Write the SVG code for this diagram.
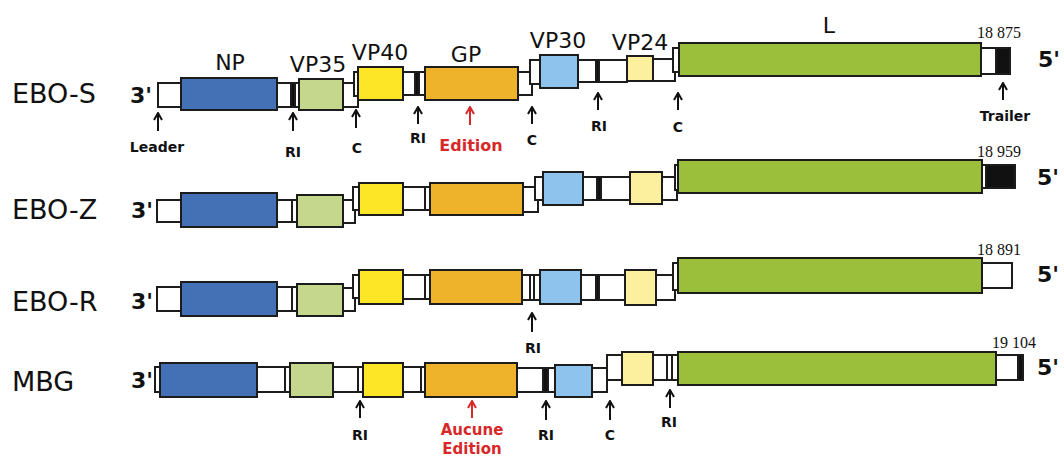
<svg xmlns="http://www.w3.org/2000/svg" width="1064" height="459" viewBox="0 0 1064 459">
<style>
rect{stroke:#1c1c1c;stroke-width:2}
.bg{fill:#fff;stroke:none}
.w{fill:#fff}
.k{fill:#111}
.np{fill:#4470b6}
.vp35{fill:#c4d78c}
.vp40{fill:#fde625}
.gp{fill:#efb32b}
.vp30{fill:#8dc3ec}
.vp24{fill:#fcef9e}
.l{fill:#9cbf3b}
text{font-family:"DejaVu Sans",sans-serif;fill:#111}
.name{font-size:27px}
.end{font-size:22px;font-weight:bold}
.gene{font-size:22px;text-anchor:middle}
.num{font-family:"Liberation Serif",serif;font-size:16px}
.lab{font-size:14px;font-weight:bold;text-anchor:middle}
.red{fill:#d7282a;font-size:16px}
.red2{fill:#d7282a;font-size:15px}
.ar{stroke:#111;stroke-width:2;fill:none;marker-end:url(#ah)}
.arr{stroke:#d7282a;stroke-width:2;fill:none;marker-end:url(#ahr)}
</style>
<defs>
<marker id="ah" viewBox="0 0 10 10" refX="9" refY="5" markerWidth="10" markerHeight="10" markerUnits="userSpaceOnUse" orient="auto"><path d="M2,1 L9,5 L2,9" fill="none" stroke="#111" stroke-width="2"/></marker>
<marker id="ahr" viewBox="0 0 10 10" refX="9" refY="5" markerWidth="10" markerHeight="10" markerUnits="userSpaceOnUse" orient="auto"><path d="M2,1 L9,5 L2,9" fill="none" stroke="#d7282a" stroke-width="2"/></marker>
</defs>
<rect class="bg" x="0" y="0" width="1064" height="459"/>

<g id="labels">
<text class="gene" x="230" y="70">NP</text>
<text class="gene" x="318" y="72">VP35</text>
<text class="gene" x="380" y="60">VP40</text>
<text class="gene" x="466" y="62">GP</text>
<text class="gene" x="558" y="48">VP30</text>
<text class="gene" x="640" y="50">VP24</text>
<text class="gene" x="829" y="33">L</text>
</g>

<g id="row-ebo-s">
<text class="name" x="12" y="103">EBO-S</text>
<text class="end" x="130" y="103">3'</text>
<rect class="w" x="158" y="83" width="24" height="24"/>
<rect class="np" x="181" y="78" width="96" height="32"/>
<rect class="w" x="277" y="83" width="22" height="24"/>
<rect class="k" x="291" y="83" width="4" height="24"/>
<rect class="vp35" x="299" y="79" width="44" height="31"/>
<rect class="w" x="343" y="83" width="15" height="24"/>
<rect class="w" x="354" y="72" width="5" height="24"/>
<rect class="vp40" x="358" y="67" width="45" height="33"/>
<rect class="w" x="403" y="72" width="22" height="23"/>
<rect class="k" x="415" y="72" width="4" height="23"/>
<rect class="gp" x="425" y="67" width="93" height="33"/>
<rect class="w" x="518" y="72" width="14" height="23"/>
<rect class="w" x="530" y="60" width="10" height="24"/>
<rect class="vp30" x="540" y="55" width="38" height="33"/>
<rect class="w" x="578" y="60" width="49" height="22"/>
<rect class="k" x="596" y="60" width="3" height="22"/>
<rect class="vp24" x="627" y="56" width="26" height="25"/>
<rect class="w" x="653" y="59" width="22" height="22"/>
<rect class="w" x="673" y="48" width="6" height="24"/>
<rect class="l" x="679" y="43" width="302" height="33"/>
<rect class="w" x="981" y="48" width="15" height="26"/>
<rect class="k" x="996" y="48" width="14" height="26"/>
<text class="num" x="977" y="38">18 875</text>
<text class="end" x="1038" y="67">5'</text>
</g>

<g id="row-ebo-z">
<text class="name" x="12" y="219">EBO-Z</text>
<text class="end" x="131" y="218">3'</text>
<rect class="w" x="157" y="200" width="25" height="22"/>
<rect class="np" x="181" y="193" width="96" height="34"/>
<rect class="w" x="277" y="200" width="20" height="22"/>
<rect class="w" x="292" y="200" width="5" height="22"/>
<rect class="vp35" x="297" y="195" width="46" height="32"/>
<rect class="w" x="343" y="200" width="12" height="23"/>
<rect class="w" x="353" y="187" width="6" height="23"/>
<rect class="vp40" x="359" y="183" width="44" height="32"/>
<rect class="w" x="403" y="187" width="27" height="23"/>
<rect class="w" x="425" y="187" width="5" height="23"/>
<rect class="gp" x="430" y="183" width="93" height="32"/>
<rect class="w" x="523" y="187" width="15" height="25"/>
<rect class="w" x="535" y="177" width="8" height="23"/>
<rect class="vp30" x="543" y="172" width="40" height="33"/>
<rect class="w" x="583" y="177" width="47" height="23"/>
<rect class="k" x="597" y="177" width="4" height="23"/>
<rect class="vp24" x="630" y="172" width="32" height="32"/>
<rect class="w" x="662" y="177" width="15" height="23"/>
<rect class="w" x="675" y="165" width="5" height="25"/>
<rect class="l" x="678" y="160" width="304" height="33"/>
<rect class="w" x="982" y="165" width="4" height="23"/>
<rect class="k" x="986" y="165" width="29" height="23"/>
<text class="num" x="977" y="157">18 959</text>
<text class="end" x="1037" y="185">5'</text>
</g>

<g id="row-ebo-r">
<text class="name" x="12" y="311">EBO-R</text>
<text class="end" x="131" y="309">3'</text>
<rect class="w" x="157" y="287" width="25" height="24"/>
<rect class="np" x="181" y="282" width="96" height="34"/>
<rect class="w" x="277" y="287" width="20" height="24"/>
<rect class="w" x="292" y="287" width="5" height="24"/>
<rect class="vp35" x="297" y="284" width="46" height="32"/>
<rect class="w" x="343" y="288" width="12" height="23"/>
<rect class="w" x="353" y="275" width="6" height="23"/>
<rect class="vp40" x="359" y="270" width="44" height="34"/>
<rect class="w" x="403" y="275" width="27" height="24"/>
<rect class="w" x="425" y="275" width="5" height="24"/>
<rect class="gp" x="430" y="270" width="92" height="34"/>
<rect class="w" x="522" y="275" width="18" height="25"/>
<rect class="w" x="530" y="275" width="4" height="25"/>
<rect class="vp30" x="540" y="270" width="41" height="34"/>
<rect class="w" x="581" y="275" width="44" height="25"/>
<rect class="k" x="596" y="275" width="3" height="25"/>
<rect class="vp24" x="625" y="270" width="31" height="35"/>
<rect class="w" x="656" y="275" width="19" height="25"/>
<rect class="w" x="673" y="263" width="5" height="27"/>
<rect class="l" x="678" y="258" width="304" height="35"/>
<rect class="w" x="982" y="263" width="30" height="25"/>
<text class="num" x="977" y="255">18 891</text>
<text class="end" x="1037" y="282">5'</text>
</g>

<g id="row-mbg">
<text class="name" x="12" y="391">MBG</text>
<text class="end" x="131" y="388">3'</text>
<rect class="w" x="155" y="367" width="6" height="25"/>
<rect class="np" x="160" y="363" width="97" height="34"/>
<rect class="w" x="257" y="367" width="33" height="25"/>
<rect class="w" x="285" y="367" width="5" height="25"/>
<rect class="vp35" x="290" y="363" width="43" height="34"/>
<rect class="w" x="333" y="367" width="30" height="25"/>
<rect class="w" x="358" y="367" width="5" height="25"/>
<rect class="vp40" x="363" y="363" width="40" height="34"/>
<rect class="w" x="403" y="367" width="22" height="25"/>
<rect class="w" x="421" y="367" width="4" height="25"/>
<rect class="gp" x="425" y="363" width="92" height="34"/>
<rect class="w" x="517" y="368" width="38" height="24"/>
<rect class="k" x="543" y="368" width="5" height="24"/>
<rect class="vp30" x="555" y="365" width="37" height="32"/>
<rect class="w" x="592" y="368" width="15" height="24"/>
<rect class="w" x="607" y="355" width="15" height="25"/>
<rect class="vp24" x="622" y="352" width="31" height="33"/>
<rect class="w" x="653" y="355" width="25" height="25"/>
<rect class="w" x="667" y="355" width="5" height="25"/>
<rect class="l" x="678" y="352" width="318" height="33"/>
<rect class="w" x="996" y="355" width="22" height="25"/>
<rect class="k" x="1018" y="355" width="5" height="25"/>
<text class="num" x="992" y="348">19 104</text>
<text class="end" x="1037" y="375">5'</text>
</g>

<g id="connectors">
<path class="ar" d="M158,131 V113"/>
<path class="ar" d="M293,131 V113"/>
<path class="ar" d="M356,128 V110"/>
<path class="ar" d="M418,124 V107"/>
<path class="arr" d="M470,125 V107"/>
<path class="ar" d="M532,124 V107"/>
<path class="ar" d="M598,110 V93"/>
<path class="ar" d="M678,110 V93"/>
<path class="ar" d="M1003,100 V83"/>
<path class="ar" d="M532,332 V313"/>
<path class="ar" d="M360,418 V401"/>
<path class="arr" d="M472,418 V401"/>
<path class="ar" d="M546,420 V401"/>
<path class="ar" d="M610,420 V401"/>
<path class="ar" d="M670,408 V390"/>
</g>

<g id="marker-labels">
<text class="lab" x="157" y="152">Leader</text>
<text class="lab" x="293" y="157">RI</text>
<text class="lab" x="357" y="153">C</text>
<text class="lab" x="418" y="143">RI</text>
<text class="lab red" x="471" y="151">Edition</text>
<text class="lab" x="532" y="145">C</text>
<text class="lab" x="599" y="131">RI</text>
<text class="lab" x="678" y="132">C</text>
<text class="lab" x="1005" y="121">Trailer</text>
<text class="lab" x="533" y="353">RI</text>
<text class="lab" x="360" y="440">RI</text>
<text class="lab red2" x="472" y="435">Aucune</text>
<text class="lab red2" x="472" y="454">Edition</text>
<text class="lab" x="546" y="440">RI</text>
<text class="lab" x="610" y="440">C</text>
<text class="lab" x="669" y="427">RI</text>
</g>
</svg>
